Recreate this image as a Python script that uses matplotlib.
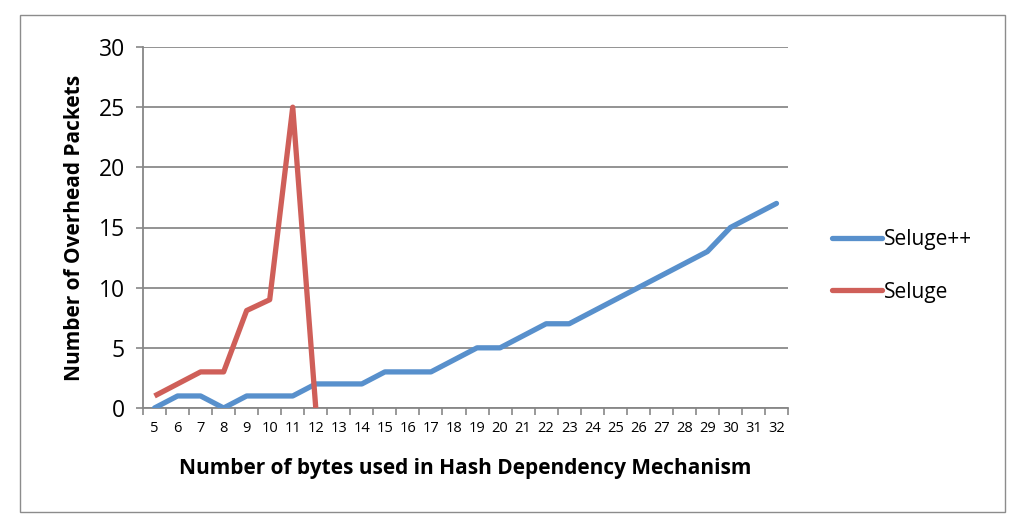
import matplotlib
matplotlib.use("Agg")
import matplotlib.pyplot as plt
from matplotlib.patches import Rectangle

categories = list(range(5, 33))
seluge_pp = [0, 1, 1, 0, 1, 1, 1, 2, 2, 2, 3, 3, 3, 4, 5, 5, 6, 7, 7, 8, 9, 10, 11, 12, 13, 15, 16, 17]
seluge_x = [5, 6, 7, 8, 9, 10, 11, 12]
seluge = [1, 2, 3, 3, 8.1, 9, 25, 0]
y_ticks = [0, 5, 10, 15, 20, 25, 30]

plt.rcParams['font.family'] = ['Open Sans', 'DejaVu Sans']

fig = plt.figure(figsize=(10.24, 5.28), dpi=100)
W, H = 1024, 528
ax = fig.add_axes([143 / W, 1 - 408 / H, (788 - 143) / W, (408 - 47) / H])

fig.patches.append(Rectangle((20 / W, 1 - 512 / H), (1005 - 20) / W, (512 - 15) / H,
                             transform=fig.transFigure, fill=False, edgecolor='#8c8c8c', linewidth=1.0))

blue = '#5890CC'
red = '#CF5F59'
ax.plot(categories, seluge_pp, color=blue, lw=3.8, solid_capstyle='round', solid_joinstyle='round', label='Seluge++', zorder=3)
ax.plot(seluge_x, seluge, color=red, lw=3.8, solid_capstyle='butt', solid_joinstyle='round', label='Seluge', zorder=3)

ax.set_xlim(4.5, 32.5)
ax.set_ylim(0, 30)
ax.set_yticks(y_ticks)
ax.set_xticks(categories)
ax.set_xticklabels([str(c) for c in categories], fontsize=10.5)
ax.set_xticks([c - 0.5 for c in categories] + [32.5], minor=True)
ax.tick_params(axis='x', which='major', length=0, pad=9)
ax.tick_params(axis='x', which='minor', length=5, color='#878787', width=1.2, direction='out')
ax.tick_params(axis='y', length=5, color='#878787', width=1.2, labelsize=16.5, pad=8)

ax.grid(axis='y', color='#8a8a8a', linewidth=1.3)
ax.set_axisbelow(True)
for s in ['top', 'right']:
    ax.spines[s].set_visible(False)
for s in ['left', 'bottom']:
    ax.spines[s].set_color('#878787')
    ax.spines[s].set_linewidth(1.3)

ax.set_xlabel('Number of bytes used in Hash Dependency Mechanism', fontsize=15, fontweight='bold', labelpad=16)
ax.set_ylabel('Number of Overhead Packets', fontsize=15, fontweight='bold', labelpad=10)

leg = ax.legend(loc='center left', bbox_to_anchor=(813 / W, 1 - 266 / H), bbox_transform=fig.transFigure,
                frameon=False, fontsize=15, handlelength=2.4, handletextpad=0.1, labelspacing=1.5)
for h in leg.get_lines():
    h.set_solid_capstyle('round')

fig.savefig('out.png', dpi=100)
